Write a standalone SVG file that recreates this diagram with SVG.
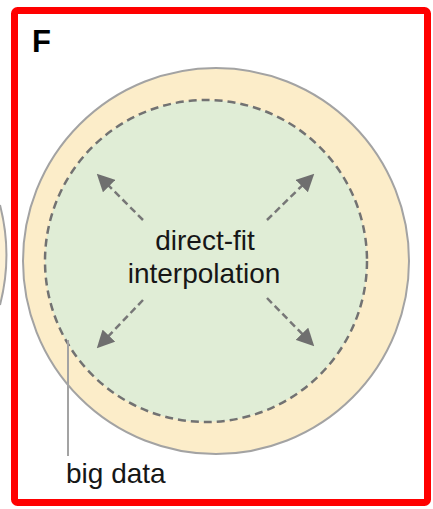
<svg xmlns="http://www.w3.org/2000/svg" width="433" height="509" viewBox="0 0 433 509">
<defs>
<style>
.lbl{font-family:"Liberation Sans",Arial,sans-serif;fill:#161616}
.conn{stroke:#777;stroke-width:2.5;stroke-dasharray:7 4;fill:none}
</style>
<marker id="ah" viewBox="0 0 10 10" refX="9" refY="5" markerWidth="7" markerHeight="7" markerUnits="strokeWidth" orient="auto">
<path d="M0,0 L10,5 L0,10 z" fill="#6f6f6f"/>
</marker>
</defs>
<rect width="433" height="509" fill="#fff"/>
<g id="neighbor">
<path d="M0,205 A200,200 0 0 1 0,305 z" fill="#fdf1d6"/>
<path d="M0,205 A200,200 0 0 1 0,305" fill="none" stroke="#a3a3a3" stroke-width="2"/>
</g>
<g id="frame">
<rect x="14.5" y="10.5" width="413" height="492" rx="3" fill="none" stroke="#ff0000" stroke-width="7"/>
<text x="32" y="52" font-family="Liberation Sans,Arial,sans-serif" font-weight="bold" font-size="31" fill="#000">F</text>
</g>
<g id="big-data">
<circle cx="216" cy="261" r="193" fill="#fcedc9" stroke="#a3a3a3" stroke-width="2"/>
</g>
<g id="direct-fit">
<circle cx="206" cy="261" r="161" fill="#e0edd6" stroke="#727272" stroke-width="2.5" stroke-dasharray="8 5"/>
<text class="lbl" x="205" y="250" font-size="28" text-anchor="middle">direct-fit</text>
<text class="lbl" x="204" y="283" font-size="28" text-anchor="middle">interpolation</text>
</g>
<g id="connectors">
<line class="conn" x1="143" y1="220" x2="98" y2="175" marker-end="url(#ah)"/>
<line class="conn" x1="267" y1="220" x2="313" y2="175" marker-end="url(#ah)"/>
<line class="conn" x1="143" y1="300" x2="98" y2="347" marker-end="url(#ah)"/>
<line class="conn" x1="267" y1="298" x2="313" y2="345" marker-end="url(#ah)"/>
<line x1="68" y1="340" x2="68" y2="456" stroke="#a3a3a3" stroke-width="2"/>
</g>
<g id="big-data-label">
<text class="lbl" x="66" y="483" font-size="28">big data</text>
</g>
</svg>
